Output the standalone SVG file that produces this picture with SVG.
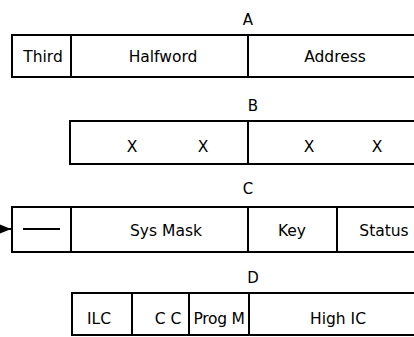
<svg xmlns="http://www.w3.org/2000/svg" width="414" height="337" viewBox="0 0 414 337">
<style>
.ln{stroke:#000;stroke-width:2;fill:none}
.t{font-family:"DejaVu Sans","Liberation Sans",sans-serif;font-size:15.5px;fill:#000;text-anchor:middle}
.lbl{font-family:"DejaVu Sans","Liberation Sans",sans-serif;font-size:15px;fill:#000;text-anchor:middle}
</style>
<defs>
<marker id="ah" markerWidth="12" markerHeight="10" refX="12" refY="5" orient="auto" markerUnits="userSpaceOnUse">
<path d="M0,0 L12,5 L0,10 Z" fill="#000"/>
</marker>
</defs>
<rect width="414" height="337" fill="#fff"/>
<g id="rowA">
<text class="lbl" x="248" y="25">A</text>
<path class="ln" d="M416,35 H12 V77 H416 M71,35 V77 M248,35 V77"/>
<text class="t" x="43" y="62">Third</text>
<text class="t" x="163" y="62">Halfword</text>
<text class="t" x="335" y="62">Address</text>
</g>
<g id="rowB">
<text class="lbl" x="253" y="111">B</text>
<path class="ln" d="M416,121 H70 V164 H416 M248,121 V164"/>
<text class="t" x="132" y="152">X</text>
<text class="t" x="203" y="152">X</text>
<text class="t" x="309" y="152">X</text>
<text class="t" x="377" y="152">X</text>
</g>
<g id="rowC">
<text class="lbl" x="248" y="194">C</text>
<path class="ln" d="M416,207 H12 V252 H416 M71,207 V252 M248,207 V252 M337,207 V252"/>
<path class="ln" d="M23,229 H60"/>
<text class="t" x="166" y="236">Sys  Mask</text>
<text class="t" x="292" y="236">Key</text>
<text class="t" x="384" y="236">Status</text>
</g>
<g id="rowD">
<text class="lbl" x="253" y="283">D</text>
<path class="ln" d="M416,293 H72 V335 H416 M132,293 V335 M189,293 V335 M249,293 V335"/>
<text class="t" x="99" y="324">ILC</text>
<text class="t" x="168" y="324">C C</text>
<text class="t" x="219" y="324" style="letter-spacing:-0.3px">Prog M</text>
<text class="t" x="338" y="324">High IC</text>
</g>
<g id="connectors">
<path class="ln" d="M0,229 H11" marker-end="url(#ah)"/>
</g>
</svg>
